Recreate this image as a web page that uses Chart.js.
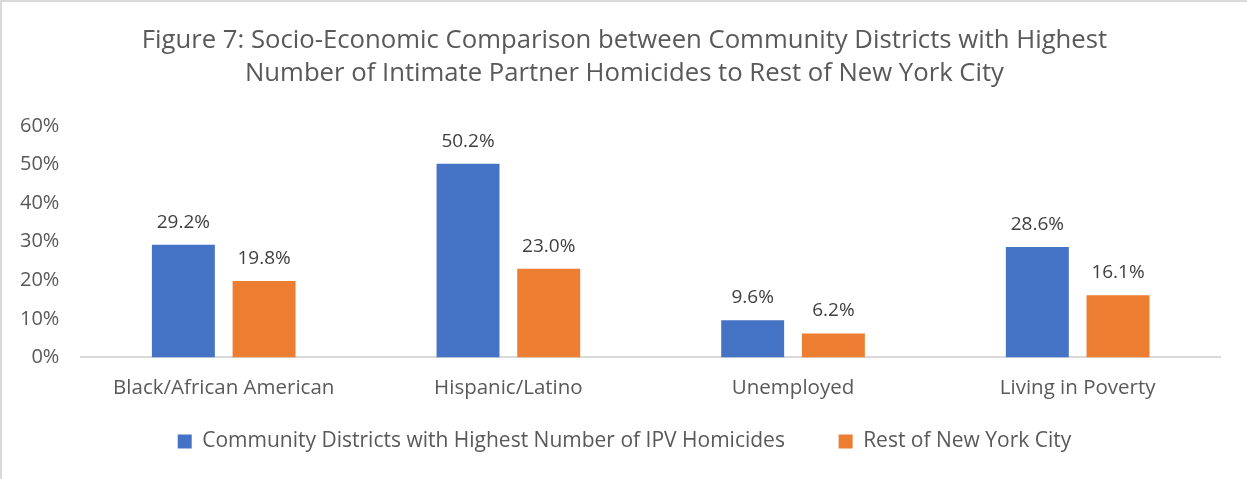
<!DOCTYPE html>
<html lang="en">
<head>
    <meta charset="UTF-8">
    <title>Figure 7: Socio-Economic Comparison</title>
    <script src="https://cdn.jsdelivr.net/npm/chart.js"></script>
    <style>
        body {
            margin: 0;
            background-color: #fff;
        }

        .chart-container {
            position: relative;
            width: 1245px;
            height: 477px;
            border-top: 2px solid #d9d9d9;
            border-left: 2px solid #d9d9d9;
        }
    </style>
</head>
<body>

    <div class="chart-container">
        <canvas id="ipvChart"></canvas>
    </div>

    <script>
        const categories = ['Black/African American', 'Hispanic/Latino', 'Unemployed', 'Living in Poverty'];
        const highestDistricts = [29.2, 50.2, 9.6, 28.6];
        const restOfCity = [19.8, 23.0, 6.2, 16.1];
        const seriesNames = ['Community Districts with Highest Number of IPV Homicides', 'Rest of New York City'];
        const titleLines = [
            'Figure 7: Socio-Economic Comparison between Community Districts with Highest',
            'Number of Intimate Partner Homicides to Rest of New York City'
        ];

        const fontFamily = "'Open Sans', 'Noto Sans', sans-serif";
        const textColor = '#595959';

        // Draw value labels above each bar
        const valueLabels = {
            id: 'valueLabels',
            afterDatasetsDraw(chart) {
                const ctx = chart.ctx;
                ctx.save();
                ctx.font = '19px ' + fontFamily;
                ctx.fillStyle = '#404040';
                ctx.textAlign = 'center';
                ctx.textBaseline = 'bottom';
                chart.data.datasets.forEach((ds, i) => {
                    chart.getDatasetMeta(i).data.forEach((bar, j) => {
                        ctx.fillText(ds.data[j].toFixed(1) + '%', bar.x, bar.y - 13);
                    });
                });
                ctx.restore();
            }
        };

        const ctx = document.getElementById('ipvChart').getContext('2d');
        new Chart(ctx, {
            type: 'bar',
            data: {
                labels: categories,
                datasets: [{
                    label: seriesNames[0],
                    data: highestDistricts,
                    backgroundColor: '#4472C4',
                    categoryPercentage: 0.567,
                    barPercentage: 0.78
                }, {
                    label: seriesNames[1],
                    data: restOfCity,
                    backgroundColor: '#ED7D31',
                    categoryPercentage: 0.567,
                    barPercentage: 0.78
                }]
            },
            options: {
                responsive: true,
                maintainAspectRatio: false,
                animation: false,
                layout: {
                    padding: { left: 4, right: 4, top: 10, bottom: 17 }
                },
                plugins: {
                    title: {
                        display: true,
                        text: titleLines,
                        color: textColor,
                        font: { family: fontFamily, size: 25.7, weight: 'normal', lineHeight: 1.3 },
                        padding: { top: 12, bottom: 35 }
                    },
                    legend: {
                        position: 'bottom',
                        labels: {
                            color: textColor,
                            font: { family: fontFamily, size: 21 },
                            boxWidth: 14,
                            boxHeight: 14,
                            padding: 21,
                            // extra room after the first entry, like the original legend
                            generateLabels(chart) {
                                const items = Chart.defaults.plugins.legend.labels.generateLabels(chart);
                                items.forEach((item, i) => {
                                    if (i < items.length - 1) item.text += '      ';
                                });
                                return items;
                            }
                        }
                    },
                    tooltip: { enabled: false }
                },
                scales: {
                    x: {
                        grid: { display: false },
                        border: { color: '#d9d9d9', width: 2 },
                        ticks: {
                            color: textColor,
                            font: { family: fontFamily, size: 20.5 },
                            padding: 10
                        }
                    },
                    y: {
                        min: 0,
                        max: 60,
                        grid: { display: false },
                        border: { display: false },
                        ticks: {
                            stepSize: 10,
                            color: textColor,
                            font: { family: fontFamily, size: 20 },
                            padding: 14,
                            callback: v => v + '%'
                        }
                    },
                    // empty right-hand axis, only to leave the right margin of the original
                    yRight: {
                        position: 'right',
                        grid: { display: false },
                        border: { display: false },
                        ticks: { display: false },
                        afterFit(scale) {
                            scale.width = 23;
                        }
                    }
                }
            },
            plugins: [valueLabels]
        });
    </script>

</body>
</html>
